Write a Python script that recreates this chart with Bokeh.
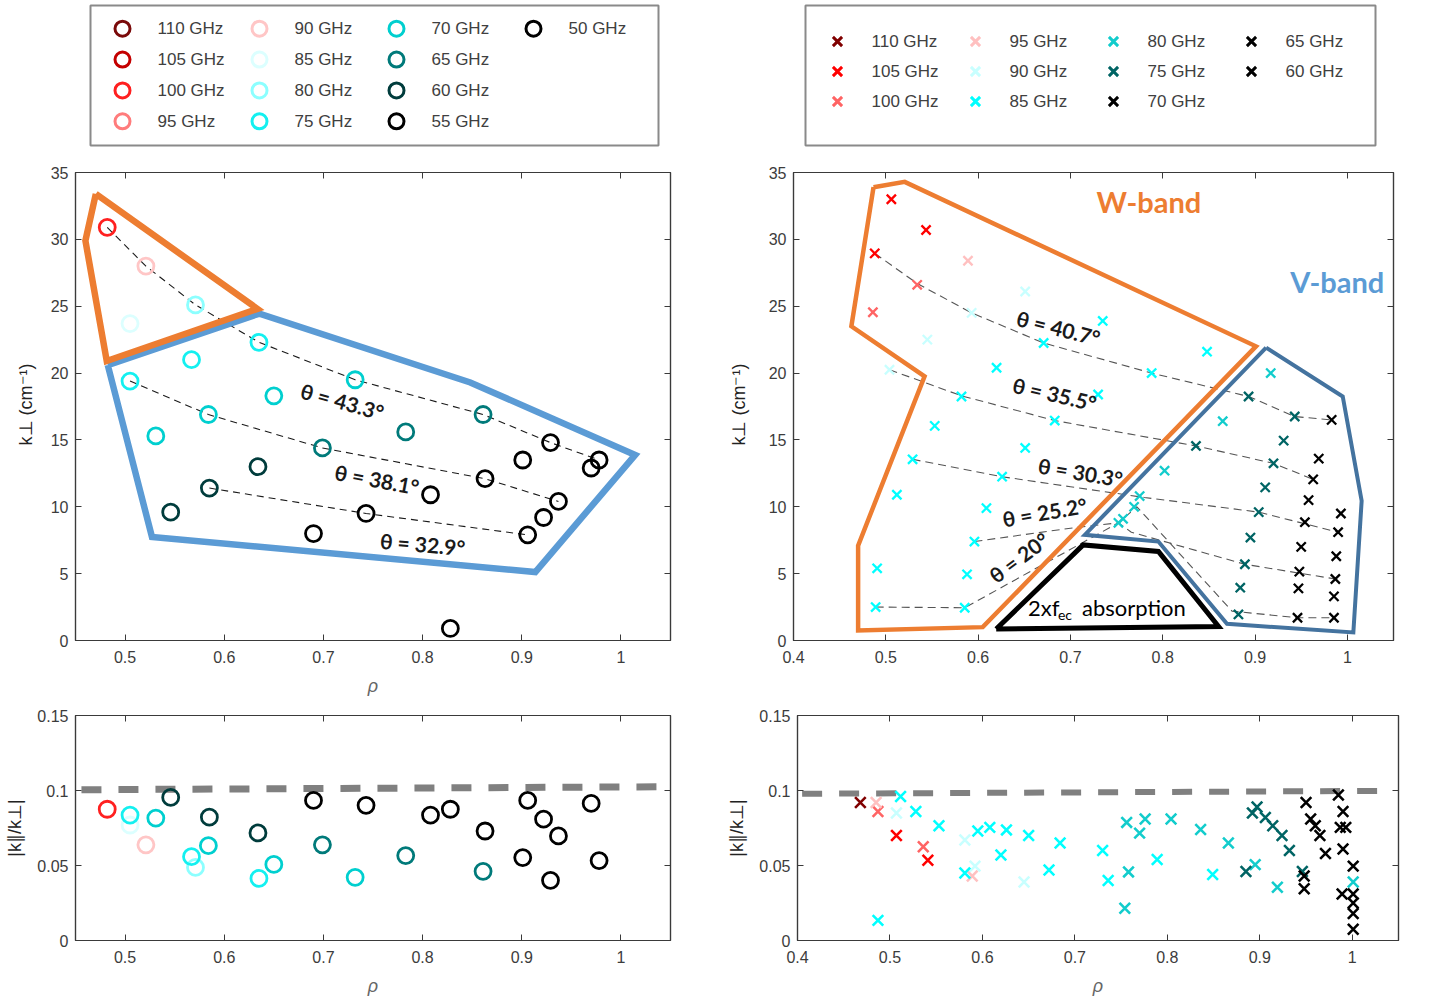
import math
from bokeh.plotting import figure
from bokeh.models import Range1d, LinearAxis, FixedTicker, ColumnDataSource
from bokeh.layouts import row, column
from bokeh.transform import factor_cmap
from bokeh.core.properties import value
from bokeh.embed import file_html
from bokeh.resources import INLINE

# ----------------------------------------------------------------- data
FREQ_L = ["110 GHz", "105 GHz", "100 GHz", "95 GHz", "90 GHz", "85 GHz", "80 GHz",
          "75 GHz", "70 GHz", "65 GHz", "60 GHz", "55 GHz", "50 GHz"]
COLOR_L = ["#7a0a0a", "#c40000", "#ff2020", "#ff7c7c", "#ffc6c6", "#dcffff", "#8cffff",
           "#14f0f0", "#00cfcf", "#007a7a", "#003c3c", "#000000", "#000000"]
FREQ_R = ["110 GHz", "105 GHz", "100 GHz", "95 GHz", "90 GHz", "85 GHz", "80 GHz",
          "75 GHz", "70 GHz", "65 GHz", "60 GHz"]
COLOR_R = ["#800000", "#ff0000", "#ff6464", "#ffc0c0", "#c8ffff", "#00ffff", "#12cccc",
           "#006464", "#000000", "#000000", "#000000"]

# left panels (circles): rho, k_perp (top), |k_par/k_perp| (bottom)
L_RHO = [0.482, 0.521, 0.571, 0.505, 0.635, 0.567, 0.505, 0.732, 0.650, 0.584,
         0.531, 0.861, 0.783, 0.699, 0.634, 0.585, 0.546, 0.929, 0.978, 0.970,
         0.901, 0.863, 0.937, 0.922, 0.906, 0.808, 0.743, 0.690, 0.828]
L_KPERP = [30.9, 28.0, 25.1, 23.7, 22.3, 21.0, 19.4, 19.5, 18.3, 16.9,
           15.3, 16.9, 15.6, 14.4, 13.0, 11.4, 9.6, 14.8, 13.5, 12.9,
           13.5, 12.1, 10.4, 9.2, 7.9, 10.9, 9.5, 8.0, 0.9]
L_RATIO = [0.0875, 0.0638, 0.0487, 0.0770, 0.0414, 0.0559, 0.0836, 0.0421, 0.0507, 0.0632,
           0.0816, 0.0461, 0.0566, 0.0638, 0.0717, 0.0822, 0.0954, 0.0401, 0.0533, 0.0914,
           0.0553, 0.0730, 0.0697, 0.0809, 0.0934, 0.0836, 0.0901, 0.0934, 0.0875]
L_FREQ = ["100 GHz", "90 GHz", "80 GHz", "85 GHz", "75 GHz", "75 GHz", "75 GHz", "70 GHz",
          "70 GHz", "70 GHz", "70 GHz", "65 GHz", "65 GHz", "65 GHz", "60 GHz", "60 GHz",
          "60 GHz", "55 GHz", "50 GHz", "50 GHz", "55 GHz", "55 GHz", "55 GHz", "55 GHz",
          "55 GHz", "55 GHz", "55 GHz", "55 GHz", "50 GHz"]

# left iso-angle curves
LT_TH433_RHO = [0.482, 0.521, 0.571, 0.635, 0.732, 0.861, 0.929, 0.978]
LT_TH433_K = [30.9, 28.0, 25.1, 22.3, 19.5, 16.9, 14.8, 13.5]
LT_TH381_RHO = [0.505, 0.584, 0.699, 0.863, 0.937]
LT_TH381_K = [19.4, 16.9, 14.4, 12.1, 10.4]
LT_TH329_RHO = [0.585, 0.743, 0.906]
LT_TH329_K = [11.4, 9.5, 7.9]

# left band outlines
LT_W_RHO = [0.4705, 0.4600, 0.4815, 0.6335, 0.4705]
LT_W_K = [33.4, 29.9, 20.9, 24.8, 33.4]
LT_V_RHO = [0.4825, 0.6355, 0.8481, 1.0144, 0.9137, 0.5271, 0.4825]
LT_V_K = [20.6, 24.45, 19.3, 13.88, 5.12, 7.75, 20.6]

LT_LABEL = ["θ = 43.3°", "θ = 38.1°", "θ = 32.9°"]
LT_LABEL_RHO = [0.719, 0.754, 0.800]
LT_LABEL_K = [17.9, 12.06, 7.22]
LT_LABEL_ANGLE = [-15.5, -10.6, -4.8]

# right top (crosses)
RT_RHO = [0.506, 0.5436, 0.488, 0.534, 0.486, 0.589,
          0.651, 0.593, 0.545, 0.504,
          0.735, 0.671, 0.620, 0.582, 0.553, 0.529, 0.512, 0.848, 0.788, 0.730,
          0.683, 0.651, 0.626, 0.609, 0.596, 0.588, 0.5855, 0.4906, 0.489,
          0.802, 0.775, 0.769, 0.757, 0.752, 0.865, 0.917,
          0.836, 0.893, 0.943, 0.931, 0.920, 0.911, 0.904, 0.895, 0.889, 0.884, 0.882,
          0.983, 0.969, 0.963, 0.958, 0.954,
          0.950, 0.948, 0.947, 0.946, 0.993,
          0.990, 0.988, 0.987, 0.9855, 0.9855]
RT_KPERP = [33.0, 30.7, 28.95, 26.6, 24.55, 28.4,
            26.1, 24.5, 22.5, 20.25,
            23.9, 22.25, 20.4, 18.25, 16.05, 13.55, 10.9, 21.6, 20.0, 18.4,
            16.45, 14.4, 12.25, 9.9, 7.4, 4.95, 2.45, 5.4, 2.5,
            12.7, 10.8, 10.0, 9.1, 8.8, 16.4, 20.0,
            14.55, 18.25, 16.75, 14.95, 13.25, 11.45, 9.6, 7.7, 5.7, 3.95, 1.95,
            16.5, 13.6, 12.05, 10.5, 8.85,
            7.0, 5.15, 3.9, 1.7, 9.5,
            8.1, 6.3, 4.6, 3.3, 1.7]
RT_FREQ = (["105 GHz"] * 3 + ["100 GHz"] * 2 + ["95 GHz"] + ["90 GHz"] * 4 +
           ["85 GHz"] * 19 + ["80 GHz"] * 7 + ["75 GHz"] * 11 +
           ["70 GHz"] * 5 + ["65 GHz"] * 5 + ["60 GHz"] * 5)

RT_TH407_RHO = [0.488, 0.534, 0.593, 0.671, 0.788, 0.893, 0.943, 0.983]
RT_TH407_K = [28.95, 26.7, 24.5, 22.25, 20.0, 18.25, 16.75, 16.5]
RT_TH355_RHO = [0.504, 0.582, 0.683, 0.836, 0.920, 0.963]
RT_TH355_K = [20.25, 18.3, 16.45, 14.55, 13.25, 12.05]
RT_TH303_RHO = [0.529, 0.626, 0.700, 0.780, 0.904, 0.990]
RT_TH303_K = [13.55, 12.25, 11.5, 10.7, 9.6, 8.1]
RT_TH252_RHO = [0.596, 0.700, 0.752, 0.766, 0.889, 0.987]
RT_TH252_K = [7.4, 8.4, 8.8, 8.1, 5.7, 4.6]
RT_TH20_RHO = [0.489, 0.5855, 0.752, 0.772, 0.875, 0.946, 0.9855]
RT_TH20_K = [2.5, 2.45, 8.8, 10.0, 2.2, 1.7, 1.7]

RT_W_RHO = [0.4867, 0.5205, 0.901, 0.605, 0.470, 0.470, 0.542, 0.4627, 0.4867]
RT_W_K = [33.9, 34.3, 22.0, 1.0, 0.75, 7.1, 19.75, 23.5, 33.9]
RT_V_RHO = [0.912, 0.995, 1.0155, 1.0065, 0.8696, 0.7953, 0.7156, 0.912]
RT_V_K = [21.9, 18.25, 10.45, 0.6, 1.25, 7.4, 7.9, 21.9]
RT_ABS_RHO = [0.6196, 0.7138, 0.7953, 0.8605, 0.6196]
RT_ABS_K = [0.86, 7.15, 6.66, 1.05, 0.86]

RT_LABEL = ["θ = 40.7°", "θ = 35.5°", "θ = 30.3°", "θ = 25.2°", "θ = 20°"]
RT_LABEL_RHO = [0.687, 0.683, 0.711, 0.672, 0.644]
RT_LABEL_K = [23.39, 18.45, 12.6, 9.62, 6.22]
RT_LABEL_ANGLE = [-14.3, -13.0, -9.6, 9.7, 36.6]

# right bottom (crosses)
RB_RHO = [0.468, 0.507, 0.541, 0.487, 0.536, 0.485, 0.589,
          0.507, 0.581, 0.592, 0.645,
          0.487, 0.5115, 0.528, 0.553, 0.595, 0.608, 0.626, 0.620, 0.581, 0.650,
          0.672, 0.684, 0.730, 0.736, 0.789, 0.849,
          0.754, 0.756, 0.758, 0.770, 0.776, 0.804, 0.836, 0.866, 0.895, 0.919, 1.001,
          0.885, 0.892, 0.897, 0.906, 0.914, 0.924, 0.932, 0.946,
          0.948, 0.948, 0.950, 0.955, 0.960, 0.965, 0.971, 0.985, 0.990,
          0.987, 0.990, 0.989, 0.993, 1.001, 1.001, 1.001, 1.001, 1.001]
RB_RATIO = [0.092, 0.070, 0.0535, 0.086, 0.0625, 0.092, 0.043,
            0.085, 0.067, 0.0496, 0.039,
            0.0134, 0.096, 0.086, 0.0765, 0.073, 0.0754, 0.0737, 0.057, 0.045, 0.070,
            0.047, 0.065, 0.060, 0.040, 0.054, 0.044,
            0.0215, 0.0787, 0.0457, 0.0716, 0.081, 0.081, 0.074, 0.065, 0.0506, 0.0355, 0.039,
            0.046, 0.085, 0.089, 0.082, 0.0765, 0.070, 0.060, 0.046,
            0.043, 0.0345, 0.092, 0.081, 0.0765, 0.070, 0.058, 0.097, 0.086,
            0.0754, 0.061, 0.031, 0.0754, 0.0496, 0.031, 0.025, 0.018, 0.0075]
RB_FREQ = (["110 GHz"] + ["105 GHz"] * 2 + ["100 GHz"] * 2 + ["95 GHz"] * 2 +
           ["90 GHz"] * 4 + ["85 GHz"] * 16 + ["80 GHz"] * 11 + ["75 GHz"] * 8 +
           ["70 GHz"] * 9 + ["65 GHz"] * 5 + ["60 GHz"] * 4)

LB_THRESH_RHO = [0.456, 1.045]
LB_THRESH_Y = [0.1005, 0.1025]
RB_THRESH_RHO = [0.405, 1.045]
RB_THRESH_Y = [0.0978, 0.0998]

X_TICKS_L = [0.5, 0.6, 0.7, 0.8, 0.9, 1.0]
X_LABELS_L = ["0.5", "0.6", "0.7", "0.8", "0.9", "1"]
X_TICKS_R = [0.4, 0.5, 0.6, 0.7, 0.8, 0.9, 1.0]
X_LABELS_R = ["0.4", "0.5", "0.6", "0.7", "0.8", "0.9", "1"]
K_TICKS = [0, 5, 10, 15, 20, 25, 30, 35]
R_TICKS = [0, 0.05, 0.1, 0.15]
R_LABELS = ["0", "0.05", "0.1", "0.15"]

# ----------------------------------------------------------------- style
FONT = "Liberation Sans"
LABEL_FONT = "Lato"
AX = "#3a3a3a"
TXT = "#3c3c3c"
ORANGE = "#ed7d31"
BLUE_L = "#5b9bd5"
BLUE_R = "#44739f"


def base_fig(w, h, xr, yr, bl, br, bt, bb):
    p = figure(width=w, height=h, x_range=Range1d(*xr), y_range=Range1d(*yr),
               min_border_left=bl, min_border_right=br, min_border_top=bt,
               min_border_bottom=bb, toolbar_location=None, output_backend="svg")
    p.grid.visible = False
    p.outline_line_color = AX
    p.outline_line_width = 1.2
    p.background_fill_color = "white"
    return p


def style_axes(p, xt, xl, yt, yl, xlab, ylab, ylab_stand, xlab_stand=10):
    xa = p.xaxis[0]
    ya = p.yaxis[0]
    xa.ticker = FixedTicker(ticks=xt)
    xa.major_label_overrides = dict(zip(xt, xl))
    ya.ticker = FixedTicker(ticks=yt)
    if yl is not None:
        ya.major_label_overrides = dict(zip(yt, yl))
    for a in (xa, ya):
        a.major_tick_in = 6
        a.major_tick_out = 0
        a.minor_tick_line_color = None
        a.axis_line_color = AX
        a.axis_line_width = 1.2
        a.major_tick_line_color = AX
        a.major_label_text_font = FONT
        a.major_label_text_font_size = "16px"
        a.major_label_text_color = TXT
        a.axis_label_text_font = FONT
        a.axis_label_text_font_size = "18px"
    xa.major_label_standoff = 10
    ya.major_label_standoff = 7
    xa.axis_label = xlab
    xa.axis_label_text_color = "#666666"
    xa.axis_label_text_font_style = "italic"
    xa.axis_label_standoff = xlab_stand
    ya.axis_label = ylab
    ya.axis_label_text_color = "#222222"
    ya.axis_label_text_font_style = "normal"
    ya.axis_label_standoff = ylab_stand
    # box ticks on top and right (MATLAB "box on"), without labels
    for place, ticks in (("above", xt), ("right", yt)):
        ax = LinearAxis(ticker=FixedTicker(ticks=ticks), major_label_text_font_size="1px",
                        major_label_text_color=None, major_label_standoff=0,
                        major_tick_in=6, major_tick_out=0,
                        minor_tick_line_color=None, axis_line_color=AX,
                        axis_line_width=1.2, major_tick_line_color=AX)
        p.add_layout(ax, place)


def legend_fig(freqs, colors, nrows, marker, msize, mlw, w, h, bl, bt, fw, fh,
               x0, y0, colpx, rowpx, dx):
    p = figure(width=w, height=h, min_border_left=bl, min_border_top=bt,
               min_border_right=w - bl - fw, min_border_bottom=h - bt - fh,
               x_range=Range1d(-x0 / colpx, (fw - x0) / colpx),
               y_range=Range1d((fh - y0) / rowpx, -y0 / rowpx),
               x_axis_type=None, y_axis_type=None,
               toolbar_location=None, output_backend="svg")
    p.grid.visible = False
    p.outline_line_color = "#8a8a8a"
    p.outline_line_width = 2
    src = ColumnDataSource(dict(col=[i // nrows for i in range(len(freqs))],
                                row=[i % nrows for i in range(len(freqs))],
                                label=freqs))
    p.scatter("col", "row", source=src, marker=marker, size=msize, fill_color=None,
              line_width=mlw, line_color=factor_cmap("label", palette=colors, factors=freqs))
    p.text("col", "row", text="label", source=src, x_offset=dx, text_baseline="middle",
           text_align="left", text_font=value(FONT), text_font_size="17px",
           text_color="#404040")
    return p


# ----------------------------------------------------------------- legends
leg_l = legend_fig(FREQ_L, COLOR_L, 4, "circle", 15, 3, 700, 158, 90, 3, 568, 145,
                   32, 24, 137, 32, 35)
leg_r = legend_fig(FREQ_R, COLOR_R, 3, "x", 13, 3, 713, 158, 105, 5, 570, 140,
                   32, 36, 138, 30, 34)

# ----------------------------------------------------------------- left top
lt = base_fig(700, 546, (0.45, 1.05), (0, 35), 75, 30, 14, 62)
style_axes(lt, X_TICKS_L, X_LABELS_L, K_TICKS, None, "ρ", "k⊥ (cm⁻¹)", 12, 10)
for xs, ys in ((LT_TH433_RHO, LT_TH433_K), (LT_TH381_RHO, LT_TH381_K),
               (LT_TH329_RHO, LT_TH329_K)):
    lt.line(xs, ys, line_color="#1a1a1a", line_width=1.1, line_dash="7 5")
lt.line(LT_V_RHO, LT_V_K, line_color=BLUE_L, line_width=6.5, line_join="miter")
lt.line(LT_W_RHO, LT_W_K, line_color=ORANGE, line_width=6.5, line_join="miter")
lsrc = ColumnDataSource(dict(rho=L_RHO, k=L_KPERP, r=L_RATIO, f=L_FREQ))
lt.scatter("rho", "k", source=lsrc, marker="circle", size=16, fill_color=None,
           line_width=2.8, line_color=factor_cmap("f", palette=COLOR_L, factors=FREQ_L))
lt.text(LT_LABEL_RHO, LT_LABEL_K, text=LT_LABEL,
        angle=[math.radians(a) for a in LT_LABEL_ANGLE],
        text_align="center", text_baseline="middle", text_font=value(LABEL_FONT),
        text_font_size="21px", text_font_style="bold", text_color="#1a1a1a")

# ----------------------------------------------------------------- right top
rt = base_fig(713, 546, (0.4, 1.05), (0, 35), 93, 20, 9, 64)
style_axes(rt, X_TICKS_R, X_LABELS_R, K_TICKS, None, "", "k⊥ (cm⁻¹)", 17, 10)
for xs, ys in ((RT_TH407_RHO, RT_TH407_K), (RT_TH355_RHO, RT_TH355_K),
               (RT_TH303_RHO, RT_TH303_K), (RT_TH252_RHO, RT_TH252_K),
               (RT_TH20_RHO, RT_TH20_K)):
    rt.line(xs, ys, line_color="#555555", line_width=1.1, line_dash="8 5")
rt.line(RT_W_RHO, RT_W_K, line_color=ORANGE, line_width=4.5, line_join="miter")
rt.line(RT_V_RHO, RT_V_K, line_color=BLUE_R, line_width=4, line_join="miter")
rt.line(RT_ABS_RHO, RT_ABS_K, line_color="black", line_width=5, line_join="miter")
rsrc = ColumnDataSource(dict(rho=RT_RHO, k=RT_KPERP, f=RT_FREQ))
rt.scatter("rho", "k", source=rsrc, marker="x", size=13, line_width=2.3,
           line_color=factor_cmap("f", palette=COLOR_R, factors=FREQ_R))
rt.text(RT_LABEL_RHO, RT_LABEL_K, text=RT_LABEL,
        angle=[math.radians(a) for a in RT_LABEL_ANGLE],
        text_align="center", text_baseline="middle", text_font=value(LABEL_FONT),
        text_font_size="21px", text_font_style="bold", text_color="#1a1a1a")
rt.text([0.785], [32.86], text=["W-band"], text_align="center", text_baseline="middle",
        text_font=value(LABEL_FONT), text_font_size="29px", text_font_style="bold",
        text_color=ORANGE)
rt.text([0.989], [26.87], text=["V-band"], text_align="center", text_baseline="middle",
        text_font=value(LABEL_FONT), text_font_size="29px", text_font_style="bold",
        text_color=BLUE_L)
rt.text([0.654], [2.47], text=["2xf"], text_align="left", text_baseline="middle",
        text_font=value(LABEL_FONT), text_font_size="22px", text_color="black")
rt.text([0.654], [2.47], text=["ec"], x_offset=30, y_offset=7, text_align="left",
        text_baseline="middle", text_font=value(LABEL_FONT), text_font_size="14px",
        text_color="black")
rt.text([0.654], [2.47], text=["absorption"], x_offset=54, text_align="left",
        text_baseline="middle", text_font=value(LABEL_FONT), text_font_size="22px",
        text_color="black")

# ----------------------------------------------------------------- left bottom
lb = base_fig(700, 297, (0.45, 1.05), (0, 0.15), 75, 30, 11, 58)
style_axes(lb, X_TICKS_L, X_LABELS_L, R_TICKS, R_LABELS, "ρ", "|k∥/k⊥|", 9, 10)
lb.line(LB_THRESH_RHO, LB_THRESH_Y, line_color="#808080", line_width=7, line_dash="20 17")
lb.scatter("rho", "r", source=lsrc, marker="circle", size=16, fill_color=None,
           line_width=2.8, line_color=factor_cmap("f", palette=COLOR_L, factors=FREQ_L))

# ----------------------------------------------------------------- right bottom
rb = base_fig(713, 297, (0.4, 1.05), (0, 0.15), 97, 15, 7, 61)
style_axes(rb, X_TICKS_R, X_LABELS_R, R_TICKS, R_LABELS, "ρ", "|k∥/k⊥|", 9, 10)
rb.line(RB_THRESH_RHO, RB_THRESH_Y, line_color="#808080", line_width=6, line_dash="20 17")
rbsrc = ColumnDataSource(dict(rho=RB_RHO, r=RB_RATIO, f=RB_FREQ))
rb.scatter("rho", "r", source=rbsrc, marker="x", size=15, line_width=2.6,
           line_color=factor_cmap("f", palette=COLOR_R, factors=FREQ_R))

layout = column(row(leg_l, leg_r), row(lt, rt), row(lb, rb))
open("out.html", "w").write(file_html(layout, INLINE))
